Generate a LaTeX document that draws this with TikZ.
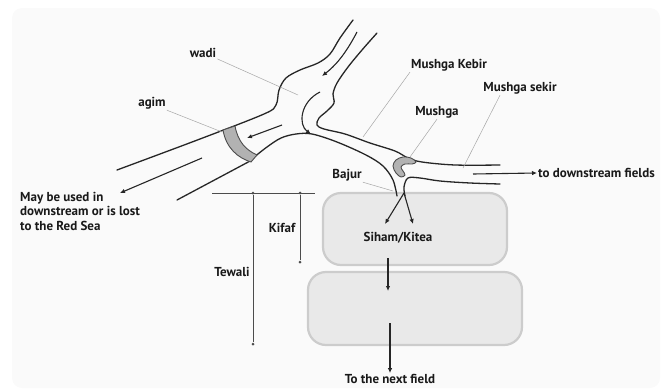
\documentclass[tikz,border=0pt]{standalone}
\usepackage{fontspec}
\setmainfont{PT Sans}
\usetikzlibrary{arrows.meta,positioning}
\tikzset{
  bank/.style={line width=1.3pt,black!85,line cap=round},
  flowarr/.style={-{Latex[length=5pt,width=4.5pt]},line width=1.1pt,black!85},
  leader/.style={gray!70,line width=0.5pt},
  dimline/.style={black!70,line width=0.7pt},
  dimdot/.style={circle,fill=black!70,inner sep=0pt,minimum size=3pt},
  field/.style={fill=gray!17,draw=gray!40,line width=2.2pt,rounded corners=18pt},
  lbl/.style={font=\bfseries\fontsize{13}{14.5}\selectfont,inner sep=1pt,black!90},
  gatefill/.style={fill=gray!60,draw=black!70,line width=0.9pt}
}
\begin{document}
\begin{tikzpicture}[x=1pt,y=-1pt]
  \useasboundingbox (0,0) rectangle (667,391);
  \fill[black!2,rounded corners=10pt] (12,8) rectangle (660,388);

  % fields
  \draw[field] (323,193) rectangle (507,265);
  \draw[field] (308,272) rectangle (522,345);

  % wadi and main canal banks
  \draw[bank] plot[smooth,tension=0.55] coordinates {(117,170) (200,139) (264,114) (276,105) (279,90) (286,78) (300,70) (318,63) (330,54) (340,38) (353,20)};
  \draw[bank] plot[smooth,tension=0.55] coordinates {(377,33) (362,50) (348,67) (337,83) (333,94) (334,103) (327,111) (319,118) (317,125) (324,129) (345,134) (370,143) (395,151) (408,158) (422,162) (455,165) (500,165)};
  \draw[bank] plot[smooth,tension=0.55] coordinates {(253,158) (267,147) (281,138) (296,134) (312,134) (337,142) (366,155) (383,166) (393,180) (397,196)};
  \draw[bank] plot[smooth,tension=0.55] coordinates {(405,196) (404,187) (408,178) (420,178) (440,181) (470,183) (500,184)};
  \draw[bank] (252,160) -- (177,200);

  % agim
  \draw[gatefill] (223,130) .. controls (226,148) and (238,158) .. (251,162) -- (257,155) .. controls (246,150) and (238,142) .. (235,126) -- cycle;

  % mushga
  \draw[gatefill] plot[smooth cycle,tension=0.6] coordinates {(396,160) (403,157) (411,158) (416,162) (412,164) (405,164) (401,167) (403,171) (405,175) (401,177) (396,173) (393,166)};

  % flow arrows in the canals
  \draw[flowarr] (357,32) .. controls (345,55) and (335,66) .. (322,76);
  \draw[flowarr] (320,92) .. controls (300,102) and (298,125) .. (311,134);
  \draw[flowarr] (282,125) -- (247,138);
  \draw[flowarr] (202,158) -- (120,193);

  % labels
  \node[lbl] (wadilbl) at (203,53) {wadi};
  \node[lbl] (agimlbl) at (152,103) {agim};
  \node[lbl] (kebirlbl) at (449,65) {Mushga Kebir};
  \node[lbl] (sekirlbl) at (520,88) {Mushga sekir};
  \node[lbl] (mushgalbl) at (437,112) {Mushga};
  \node[lbl] (bajurlbl) at (347,175) {Bajur};
  \node[lbl,anchor=west] (downlbl) at (537,173) {to downstream fields};
  \node[lbl,anchor=north west,align=left] (redsealbl) at (19,191) {May be used in\\downstream or is lost\\to the Red Sea};
  \node[lbl] (sihamlbl) at (398,238) {Siham/Kitea};
  \node[lbl] (nextlbl) at (390,379) {To the next field};
  \node[lbl] (kifaflbl) at (282,228) {Kifaf};
  \node[lbl] (tewalilbl) at (232,272) {Tewali};

  % leaders
  \draw[leader] (wadilbl.south east) -- (298,95);
  \draw[leader] (agimlbl.south east) -- (222,132);
  \draw[leader] (kebirlbl.south west) -- (363,137);
  \draw[leader] ([xshift=-20pt]sekirlbl.south) -- (463,168);
  \draw[leader] (mushgalbl.south) -- (410,157);
  \draw[leader] (bajurlbl.south east) -- (393,191);

  % outlet arrows
  \draw[flowarr] (473,174) -- (downlbl.west);
  \coordinate (bajurout) at (404,193);
  \draw[flowarr] (bajurout) -- (385,224);
  \draw[flowarr] (bajurout) -- (413,224);
  \draw[flowarr] (388,258) -- (388,291);
  \draw[flowarr] (390,323) -- (nextlbl.north);

  % kifaf and tewali
  \draw[dimline] (212,193) -- (315,193);
  \node[dimdot] (tewtop) at (253,193) {};
  \node[dimdot] (tewbot) at (253,344) {};
  \node[dimdot] (kiftop) at (300,193) {};
  \node[dimdot] (kifbot) at (300,262) {};
  \draw[dimline] (tewtop) -- (tewbot);
  \draw[dimline] (kiftop) -- (kifbot);
\end{tikzpicture}
\end{document}
